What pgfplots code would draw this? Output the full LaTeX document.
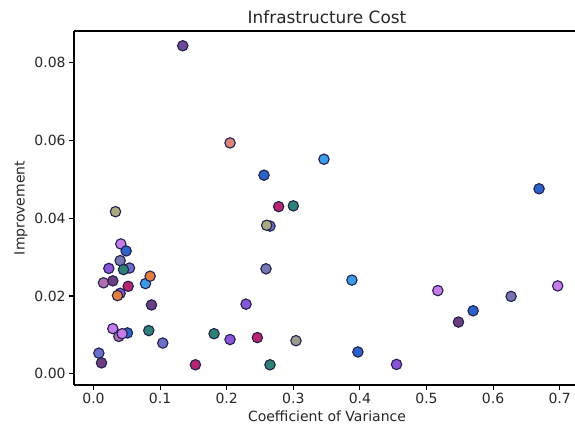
\documentclass[border=0pt]{standalone}
\usepackage{pgfplots}
\pgfplotsset{compat=1.18}
\usepackage{fontspec}
\setmainfont{DejaVu Sans}
\definecolor{cdp}{HTML}{6E4A9A}
\definecolor{csal}{HTML}{D98478}
\definecolor{cblue}{HTML}{2B63C8}
\definecolor{clb}{HTML}{3A9BE6}
\definecolor{ccr}{HTML}{B8246E}
\definecolor{cteal}{HTML}{2C8274}
\definecolor{colive}{HTML}{A9AA80}
\definecolor{csb}{HTML}{6A6FC8}
\definecolor{csl}{HTML}{7676B0}
\definecolor{cmp}{HTML}{8A55D8}
\definecolor{cgr}{HTML}{9C9C8C}
\definecolor{cvi}{HTML}{C77BE8}
\definecolor{cdk}{HTML}{6B3F80}
\definecolor{cor}{HTML}{E0803C}
\definecolor{crose}{HTML}{B070B0}
\definecolor{cedge}{HTML}{22204F}
\begin{document}
\begin{tikzpicture}[x=1pt,y=1pt]
\useasboundingbox (0,0) rectangle (575,430);
\begin{axis}[
  at={(74pt,45pt)}, anchor=south west,
  scale only axis, width=506pt, height=354pt,
  xmin=-0.0293, xmax=0.7305, ymin=-0.0029, ymax=0.0882,
  axis x line*=box, axis y line*=left,
  axis line style={line width=1.1pt, black},
  tick style={line width=1.1pt, black},
  tick align=outside, major tick length=4.9pt,
  xtick pos=bottom, ytick pos=left,
  xtick={0,0.1,0.2,0.3,0.4,0.5,0.6,0.7},
  ytick={0,0.02,0.04,0.06,0.08},
  xticklabel style={/pgf/number format/.cd, fixed, fixed zerofill, precision=1, assume math mode=true},
  yticklabel style={/pgf/number format/.cd, fixed, fixed zerofill, precision=2, assume math mode=true},
  ticklabel style={font=\fontsize{14}{16}\selectfont, text=black!85},
  scaled ticks=false,
  xlabel={Coefficient of Variance},
  ylabel={Improvement},
  label style={font=\fontsize{14}{16}\selectfont, text=black!85},
  title={Infrastructure Cost},
  title style={font=\fontsize{16.9}{19}\selectfont, text=black!85, yshift=-2pt},
  clip=false,
  scatter/classes={
    dp={mark=*, draw=cedge, fill=cdp},
    sal={mark=*, draw=cedge, fill=csal},
    blue={mark=*, draw=cedge, fill=cblue},
    lb={mark=*, draw=cedge, fill=clb},
    cr={mark=*, draw=cedge, fill=ccr},
    teal={mark=*, draw=cedge, fill=cteal},
    olive={mark=*, draw=cedge, fill=colive},
    sb={mark=*, draw=cedge, fill=csb},
    sl={mark=*, draw=cedge, fill=csl},
    mp={mark=*, draw=cedge, fill=cmp},
    gr={mark=*, draw=cedge, fill=cgr},
    vi={mark=*, draw=cedge, fill=cvi},
    dk={mark=*, draw=cedge, fill=cdk},
    or={mark=*, draw=cedge, fill=cor},
    rose={mark=*, draw=cedge, fill=crose}
  },
]
\addplot[scatter, only marks, scatter src=explicit symbolic, mark size=5.2pt, line width=1.1pt]
table[meta=c]{
x y c
0.134 0.0844 dp
0.205 0.0594 sal
0.256 0.0511 blue
0.346 0.0552 lb
0.278 0.0430 cr
0.300 0.0432 teal
0.265 0.0380 sb
0.260 0.0382 olive
0.259 0.0270 sl
0.388 0.0241 lb
0.229 0.0179 mp
0.181 0.0103 teal
0.205 0.0088 mp
0.246 0.0093 cr
0.304 0.0085 gr
0.153 0.0023 cr
0.265 0.0023 teal
0.397 0.0056 blue
0.669 0.0476 blue
0.697 0.0226 vi
0.517 0.0214 vi
0.627 0.0199 sl
0.570 0.0162 blue
0.548 0.0133 dk
0.455 0.0024 mp
0.033 0.0417 olive
0.041 0.0334 vi
0.049 0.0316 blue
0.040 0.0291 sl
0.023 0.0271 mp
0.054 0.0272 sb
0.045 0.0268 teal
0.015 0.0234 rose
0.029 0.0239 dk
0.078 0.0232 lb
0.085 0.0251 or
0.052 0.0225 cr
0.040 0.0207 mp
0.036 0.0201 or
0.087 0.0177 dk
0.029 0.0116 vi
0.038 0.0096 rose
0.051 0.0105 blue
0.043 0.0103 vi
0.083 0.0111 teal
0.104 0.0079 sb
0.008 0.0053 sb
0.012 0.0028 dk
};
\end{axis}
\end{tikzpicture}
\end{document}
